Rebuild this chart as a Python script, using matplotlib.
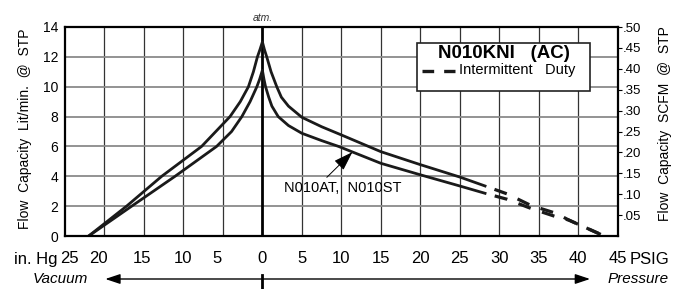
import numpy as np
import matplotlib
matplotlib.use("Agg")
import matplotlib.pyplot as plt
from matplotlib.patches import Rectangle
import matplotlib.transforms as mtransforms

plt.rcParams['font.family'] = ['Liberation Sans', 'DejaVu Sans']
plt.rcParams['lines.scale_dashes'] = False

# --- data (x: psig on the right, vacuum scale on the left) ---
upper_x = [-22, -17.2, -12.75, -7.7, -5.9, -4.1, -2.8, -1.77, -1.14, -0.63, -0.3, 0,
           0.25, 0.55, 1.1, 1.82, 2.4, 3.3, 5.0, 7.5, 10, 15, 20, 25, 28.2]
upper_y = [0, 2, 4, 6, 7, 8, 9, 10, 11, 12, 12.5, 13.0,
           12.5, 12, 11, 10, 9.3, 8.7, 7.95, 7.32, 6.77, 5.65, 4.78, 3.95, 3.35]
lower_x = [-22, -16.55, -11.06, -5.8, -3.9, -2.6, -1.56, -0.7, -0.35, 0,
           0.2, 0.4, 0.8, 1.2, 2.0, 3.3, 5, 7.5, 9.65, 15, 20, 25, 28.2]
lower_y = [0, 2, 4, 6, 7, 8, 9, 10, 10.5, 11.1,
           10.5, 10, 9.3, 8.7, 8, 7.4, 6.88, 6.39, 6.0, 4.87, 4.1, 3.35, 2.86]

# intermittent duty (dashed) continuation
upper_int_x = [28.2, 31, 34, 37.2, 38.8, 43.3]
upper_int_y = [3.35, 2.82, 2.05, 1.52, 1.07, 0]
lower_int_x = [28.2, 31, 34, 37.2, 38.8, 43.3]
lower_int_y = [2.86, 2.46, 1.85, 1.29, 1.07, 0]

vac_labels = ['25', '20', '15', '10', '5', '0']
vac_pos = [-24.5, -20.8, -15.2, -10.1, -5.7, 0]
psi_labels = ['5', '10', '15', '20', '25', '30', '35', '40', '45']
psi_pos = [5, 10, 15, 20, 25, 30, 35, 40, 45]

left_ticks = [0, 2, 4, 6, 8, 10, 12, 14]
right_ticks = [0.05, 0.10, 0.15, 0.20, 0.25, 0.30, 0.35, 0.40, 0.45, 0.50]
right_labels = ['.05', '.10', '.15', '.20', '.25', '.30', '.35', '.40', '.45', '.50']

fig = plt.figure(figsize=(6.8, 2.89), dpi=100)
ax = fig.add_axes([65 / 680, 53 / 289, 552.7 / 680, 209 / 289])
ax.set_xlim(-25, 45)
ax.set_ylim(0, 14)

# grid
for gx in np.arange(-20, 45, 5):
    if gx != 0:
        ax.axvline(gx, color='#333333', lw=0.9, zorder=1)
for gy in np.arange(2, 14, 2):
    ax.axhline(gy, color='#8a8a8a', lw=1.3, zorder=1)
ax.axvline(0, color='black', lw=2.0, zorder=3)

# curves
for xs, ys in [(upper_x, upper_y), (lower_x, lower_y)]:
    ax.plot(xs, ys, color='#1a1a1a', lw=2.0, solid_joinstyle='round', zorder=4)
for xs, ys in [(upper_int_x, upper_int_y), (lower_int_x, lower_int_y)]:
    ax.plot(xs, ys, color='#1a1a1a', lw=2.3, linestyle=(10.8, (9.4, 8.6)),
            dash_capstyle='butt', zorder=4)

# ticks
ax.set_yticks(left_ticks)
ax.set_yticklabels([str(t) for t in left_ticks], fontsize=10)
ax.tick_params(axis='y', length=0, pad=5)
ax.set_xticks(vac_pos + psi_pos)
ax.set_xticklabels(vac_labels + psi_labels, fontsize=12)
ax.tick_params(axis='x', length=0, pad=10.5)
for sp in ax.spines.values():
    sp.set_linewidth(1.6)
    sp.set_zorder(6)

ax2 = ax.twinx()
ax2.set_ylim(0, 0.5)
ax2.set_yticks(right_ticks)
ax2.set_yticklabels(right_labels, fontsize=9.5)
ax2.tick_params(axis='y', length=3, width=0.8, pad=0.5, direction='out')
for sp in ax2.spines.values():
    sp.set_visible(False)

# axis titles
fig.text(25 / 680, 1 - 128.5 / 289, 'Flow  Capacity  Lit/min.  @  STP', rotation=90,
         ha='center', va='center', fontsize=10)
fig.text(665 / 680, 1 - 123.5 / 289, 'Flow  Capacity  SCFM  @  STP', rotation=90,
         ha='center', va='center', fontsize=10)
fig.text(58 / 680, 1 - 264 / 289, 'in. Hg', ha='right', va='baseline', fontsize=12)
fig.text(630 / 680, 1 - 264 / 289, 'PSIG', ha='left', va='baseline', fontsize=12)

ax.text(0, 14.25, 'atm.', ha='center', va='bottom', fontsize=7.5, style='italic', color='#333333')

# vacuum / pressure arrow row
blend = mtransforms.blended_transform_factory(ax.transData, fig.transFigure)
arrow_y = 1 - 279 / 289
ax.annotate('', xy=(-19.9, arrow_y), xytext=(41.5, arrow_y), xycoords=blend, textcoords=blend,
            arrowprops=dict(arrowstyle='<|-|>,head_length=0.9,head_width=0.3', color='black',
                            lw=1.0, shrinkA=0, shrinkB=0, mutation_scale=10),
            annotation_clip=False)
ax.plot([0, 0], [1 - 275 / 289, 0], color='black', lw=2.0, transform=blend, clip_on=False)
fig.text(60 / 680, arrow_y, 'Vacuum', ha='center', va='center', fontsize=11, style='italic')
fig.text(638 / 680, arrow_y, 'Pressure', ha='center', va='center', fontsize=11, style='italic')

# model box
ax.add_patch(Rectangle((19.57, 9.73), 41.5 - 19.57, 12.95 - 9.73, facecolor='white',
                       edgecolor='#222222', lw=1.2, zorder=7))
ax.text(30.6, 12.2, 'N010KNI   (AC)', ha='center', va='center', fontsize=13.5,
        fontweight='bold', zorder=8)
ax.plot([20.2, 24.4], [11.07, 11.07], color='#1a1a1a', lw=2.4, linestyle=(0, (8.4, 7.2)),
        dash_capstyle='butt', zorder=8)
ax.text(24.93, 11.1, 'Intermittent   Duty', ha='left', va='center', fontsize=10.5, zorder=8)

# model callout
ax.text(10.2, 3.2, 'N010AT,  N010ST', ha='center', va='center', fontsize=10.5, zorder=8)
ax.annotate('', xy=(11.4, 5.62), xytext=(8.16, 3.93),
            arrowprops=dict(arrowstyle='-|>,head_length=1.2,head_width=0.4', color='black',
                            lw=0.7, shrinkA=0, shrinkB=0, mutation_scale=10), zorder=8)

fig.savefig('out.png', dpi=100)
